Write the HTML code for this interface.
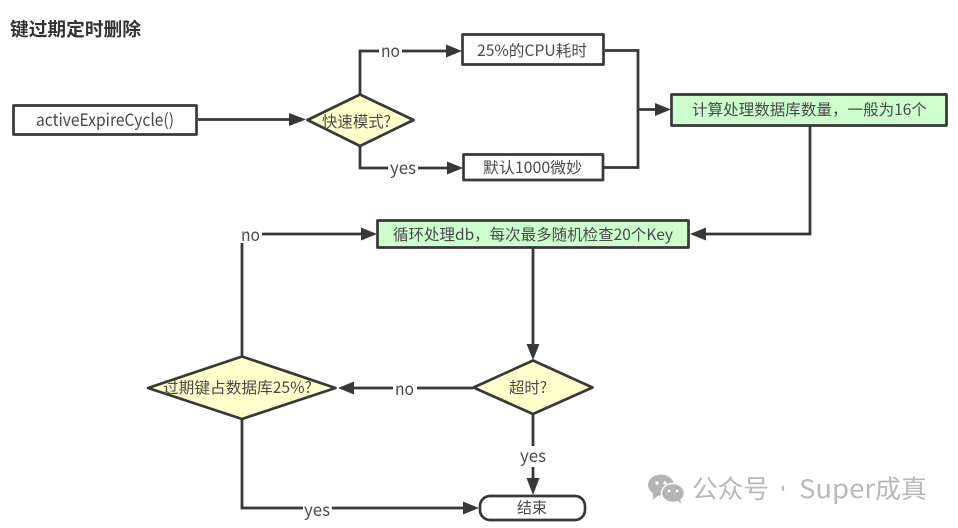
<!DOCTYPE html>
<html>
<head>
<meta charset="utf-8">
<style>
html,body{margin:0;padding:0;background:#fff;}
svg{display:block;filter:blur(0.3px);}
text{font-family:"Noto Sans CJK SC","Liberation Sans",sans-serif;fill:#4a4a4a;font-size:15.5px;}
.s{fill:none;stroke:#383838;stroke-width:2.7;stroke-linejoin:round;}
.l{fill:none;stroke:#383838;stroke-width:2.8;}
.h{fill:#383838;stroke:none;}
.e{font-size:17px;}
.w{font-size:25.5px;fill:#b8b8b8;}
</style>
</head>
<body>
<svg width="958" height="528" viewBox="0 0 958 528" xmlns="http://www.w3.org/2000/svg">
<rect width="958" height="528" fill="#fff"/>

<text x="10" y="36" style="font-size:18.5px;font-weight:700;fill:#333" textLength="131" lengthAdjust="spacingAndGlyphs">键过期定时删除</text>

<!-- connectors -->
<path class="l" d="M198 119.5H290"/>
<path class="h" d="M306 119.5L289 113V126Z"/>
<path class="l" d="M360 94V51H447"/>
<path class="h" d="M462 51L446 44.5V57.5Z"/>
<path class="l" d="M360 146V168H448"/>
<path class="h" d="M463 168L447 161.5V174.5Z"/>
<path class="l" d="M605 50.5H638V167.5H604"/>
<path class="l" d="M638 109.5H656"/>
<path class="h" d="M671 109.5L655 103V116Z"/>
<path class="l" d="M810 126V234H705"/>
<path class="h" d="M690 234L706 227.5V240.5Z"/>
<path class="l" d="M533 248V346"/>
<path class="h" d="M533 360L526.5 344H539.5Z"/>
<path class="l" d="M473 388H352"/>
<path class="h" d="M338 388L354 381.5V394.5Z"/>
<path class="l" d="M242 356V234H362"/>
<path class="h" d="M377 234L361 227.5V240.5Z"/>
<path class="l" d="M242 419V508H465"/>
<path class="h" d="M479 508L463 501.5V514.5Z"/>
<path class="l" d="M533 414V480"/>
<path class="h" d="M533 495L526.5 478H539.5Z"/>

<!-- nodes -->
<rect class="s" x="13.5" y="105.5" width="183" height="29" style="fill:#fff"/>
<rect class="s" x="462.5" y="34.5" width="141" height="30" style="fill:#fff"/>
<rect class="s" x="463.5" y="154.5" width="139.5" height="25.5" style="fill:#fff"/>
<rect class="s" x="671.5" y="94.5" width="275" height="31" style="fill:#ccffcc"/>
<rect class="s" x="377.5" y="220.5" width="311" height="27" style="fill:#ccffcc"/>
<rect class="s" x="480" y="496" width="105" height="24" rx="10" ry="10" style="fill:#fff"/>
<path class="s" d="M360 94.5L413.5 120L360 146L307.5 120Z" style="fill:#ffffcc"/>
<path class="s" d="M533 360.5L592.5 387.5L533 414L473.5 387.5Z" style="fill:#ffffcc"/>
<path class="s" d="M242 356.5L335.5 388L242 419L148 388Z" style="fill:#ffffcc"/>

<!-- node labels -->
<text x="36" y="126" style="font-size:17px" textLength="138" lengthAdjust="spacingAndGlyphs">activeExpireCycle()</text>
<text x="322" y="127" textLength="69" lengthAdjust="spacingAndGlyphs">快速模式?</text>
<text x="477" y="56" textLength="110" lengthAdjust="spacingAndGlyphs">25%的CPU耗时</text>
<text x="483" y="173" textLength="99" lengthAdjust="spacingAndGlyphs">默认1000微妙</text>
<text x="692" y="115" textLength="235" lengthAdjust="spacingAndGlyphs">计算处理数据库数量，一般为16个</text>
<text x="393" y="240" textLength="280" lengthAdjust="spacingAndGlyphs">循环处理db，每次最多随机检查20个Key</text>
<text x="509" y="393" textLength="38" lengthAdjust="spacingAndGlyphs">超时?</text>
<text x="163" y="393" textLength="149" lengthAdjust="spacingAndGlyphs">过期键占数据库25%?</text>
<text x="517" y="513" textLength="30" lengthAdjust="spacingAndGlyphs">结束</text>

<!-- edge labels -->
<rect x="379" y="43" width="23" height="16" fill="#fff"/>
<text class="e" x="381" y="57" textLength="19" lengthAdjust="spacingAndGlyphs">no</text>
<rect x="388" y="160" width="30" height="18" fill="#fff"/>
<text class="e" x="390" y="174" textLength="26" lengthAdjust="spacingAndGlyphs">yes</text>
<rect x="238" y="226" width="24" height="17" fill="#fff"/>
<text class="e" x="241" y="241" textLength="19" lengthAdjust="spacingAndGlyphs">no</text>
<rect x="393" y="380" width="24" height="17" fill="#fff"/>
<text class="e" x="395" y="395" textLength="19" lengthAdjust="spacingAndGlyphs">no</text>
<rect x="303" y="501" width="29" height="18" fill="#fff"/>
<text class="e" x="304" y="516" textLength="26" lengthAdjust="spacingAndGlyphs">yes</text>
<rect x="519" y="446" width="29" height="21" fill="#fff"/>
<text class="e" x="520" y="462" textLength="26" lengthAdjust="spacingAndGlyphs">yes</text>

<!-- watermark -->
<ellipse cx="661" cy="485" rx="13" ry="10.5" fill="#b4b4b4"/>
<path d="M653 492L653 500L660 494Z" fill="#b4b4b4"/>
<ellipse cx="673" cy="493" rx="11.5" ry="9.5" fill="#b4b4b4" stroke="#fff" stroke-width="1.5"/>
<path d="M677 500L681 504L680 497Z" fill="#b4b4b4"/>
<circle cx="657" cy="483" r="1.6" fill="#fff"/>
<circle cx="665" cy="483" r="1.6" fill="#fff"/>
<circle cx="669" cy="491" r="1.4" fill="#fff"/>
<circle cx="677" cy="491" r="1.4" fill="#fff"/>
<text class="w" x="692" y="498" textLength="77" lengthAdjust="spacingAndGlyphs">公众号</text>
<text class="w" x="777" y="498" textLength="12" lengthAdjust="spacingAndGlyphs">·</text>
<text class="w" x="799" y="498" textLength="76" lengthAdjust="spacingAndGlyphs">Super</text>
<text class="w" x="875" y="498" textLength="52" lengthAdjust="spacingAndGlyphs">成真</text>
</svg>
</body>
</html>
